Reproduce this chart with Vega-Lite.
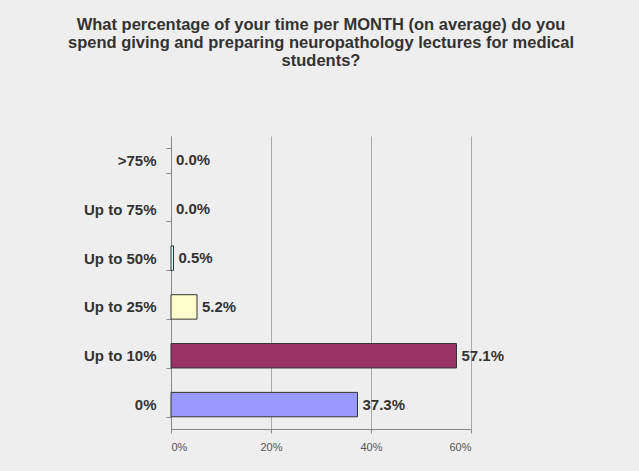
{
  "$schema": "https://vega.github.io/schema/vega-lite/v6.json",
  "autosize": {"type": "none"},
  "padding": {"left": 171, "top": 136, "right": 168, "bottom": 42},
  "width": 300,
  "height": 293,
  "background": "#EEEEEE",
  "title": {
    "text": ["What percentage of your time per MONTH (on average) do you", "spend giving and preparing neuropathology lectures for medical", "students?"],
    "font": "Liberation Sans",
    "fontSize": 16.5,
    "fontWeight": "bold",
    "color": "#333333",
    "anchor": "middle",
    "frame": "group",
    "lineHeight": 18,
    "offset": 60
  },
  "data": {
    "values": [
      {"category": ">75%", "value": 0.0},
      {"category": "Up to 75%", "value": 0.0},
      {"category": "Up to 50%", "value": 0.005},
      {"category": "Up to 25%", "value": 0.052},
      {"category": "Up to 10%", "value": 0.571},
      {"category": "0%", "value": 0.373}
    ]
  },
  "encoding": {
    "y": {
      "field": "category",
      "type": "nominal",
      "sort": [">75%", "Up to 75%", "Up to 50%", "Up to 25%", "Up to 10%", "0%"],
      "scale": {"paddingInner": 0.5, "paddingOuter": 0.25},
      "axis": {
        "title": null,
        "ticks": true,
        "tickBand": "extent",
        "labelFont": "Liberation Sans",
        "labelFontSize": 15,
        "labelFontWeight": "bold",
        "labelColor": "#333333",
        "labelPadding": 10,
        "tickSize": 5,
        "tickColor": "#888888",
        "domainColor": "#888888",
        "grid": false
      }
    },
    "x": {
      "field": "value",
      "type": "quantitative",
      "scale": {"domain": [0, 0.6], "nice": false},
      "axis": {
        "title": null,
        "values": [0, 0.2, 0.4, 0.6],
        "format": ".0%",
        "labelFont": "Liberation Sans",
        "labelFontSize": 11,
        "labelColor": "#555555",
        "labelPadding": 8,
        "tickSize": 4,
        "tickColor": "#888888",
        "domainColor": "#888888",
        "gridColor": "#AAAAAA",
        "grid": true
      }
    }
  },
  "layer": [
    {
      "mark": {"type": "bar", "stroke": "#333333", "strokeWidth": 1},
      "encoding": {
        "color": {
          "field": "category",
          "type": "nominal",
          "scale": {
            "domain": [">75%", "Up to 75%", "Up to 50%", "Up to 25%", "Up to 10%", "0%"],
            "range": ["#FF8080", "#0066CC", "#CCFFFF", "#FFFFCC", "#993366", "#9999FF"]
          },
          "legend": null
        },
        "strokeOpacity": {"condition": {"test": "datum.value === 0", "value": 0}, "value": 1}
      }
    },
    {
      "mark": {
        "type": "text",
        "align": "left",
        "baseline": "middle",
        "dx": 5,
        "font": "Liberation Sans",
        "fontSize": 15,
        "fontWeight": "bold",
        "color": "#333333"
      },
      "encoding": {
        "text": {"field": "value", "type": "quantitative", "format": ".1%"}
      }
    }
  ],
  "config": {"view": {"stroke": null}}
}
